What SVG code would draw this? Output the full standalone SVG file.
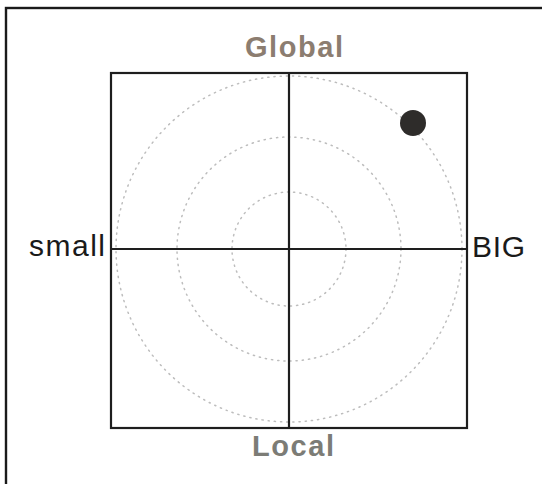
<svg xmlns="http://www.w3.org/2000/svg" width="542" height="484" viewBox="0 0 542 484">
<style>
.line{stroke:#1e1e1e;stroke-width:2.2;fill:none}
.ring{fill:none;stroke:#bdbdbd;stroke-width:1.5;stroke-dasharray:1.2 5;stroke-linecap:round}
.lbl{font-family:"Liberation Sans",Arial,sans-serif;font-size:30px;fill:#1a1a1a}
.axis{font-family:"Liberation Sans",Arial,sans-serif;font-size:29px;font-weight:bold}
</style>
<rect x="6" y="8" width="560" height="500" fill="#ffffff" stroke="#1a1a1a" stroke-width="2.4"/>
<g id="rings">
<circle class="ring" cx="289" cy="249" r="173"/>
<circle class="ring" cx="289" cy="249" r="112"/>
<circle class="ring" cx="289" cy="249" r="57"/>
</g>
<g id="connectors">
<rect class="line" x="111" y="73" width="356" height="355"/>
<line class="line" x1="289" y1="73" x2="289" y2="428"/>
<line class="line" x1="111" y1="249" x2="467" y2="249"/>
</g>
<g id="global"><text class="axis" x="245" y="57" fill="#8c7d70" textLength="98" lengthAdjust="spacing">Global</text></g>
<g id="local"><text class="axis" x="252" y="456" fill="#7c7c76" textLength="82" lengthAdjust="spacing">Local</text></g>
<g id="small"><text class="lbl" x="29" y="256" textLength="76" lengthAdjust="spacing">small</text></g>
<g id="big"><text class="lbl" x="472" y="257" textLength="53" lengthAdjust="spacing">BIG</text></g>
<g id="dot"><circle cx="413" cy="123" r="13" fill="#2e2c2a"/></g>
</svg>
